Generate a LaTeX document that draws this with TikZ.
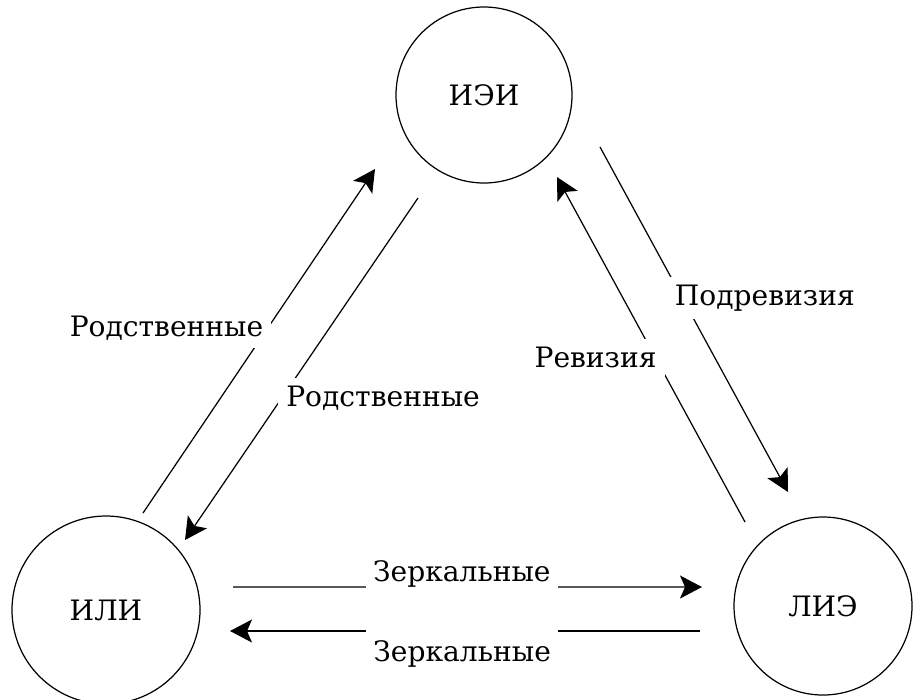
\documentclass[tikz,border=0pt]{standalone}
\usepackage{fontspec}
\setmainfont{DejaVu Serif}
\usetikzlibrary{arrows.meta,calc}

\begin{document}
\begin{tikzpicture}[
                x=.2cm,y=.2cm,
                line width=.7pt,
                type/.style={draw,circle,inner sep=0pt,font=\fontsize{16}{19}\selectfont},
                link/.style={-{Stealth[length=4.4mm,width=4.6mm,inset=1mm]}},
                tag/.style={fill=white,inner xsep=.16cm,inner ysep=.16cm,font=\fontsize{16}{19}\selectfont}]

\useasboundingbox (0,0) rectangle (91.4,-69.9);

                    % types
                    \node[type,minimum size=3.52cm] (TypeIEI) at (48.4,-9.5) {ИЭИ}; % 1
                    \node[type,minimum size=3.76cm] (TypeILI) at (10.6,-61.0) {ИЛИ}; % 2
                    \node[type,minimum size=3.56cm] (TypeLIE) at (82.3,-60.6) {ЛИЭ}; % 3


                    % ИЛИ <-> ИЭИ
                    \draw[link] ($(TypeILI)+(3.7,9.7)$) -- node[tag,pos=.538,anchor=east,xshift=.08cm] {Родственные} ($(TypeIEI)+(-10.9,-7.4)$);
                    \draw[link] ($(TypeIEI)+(-6.6,-10.3)$) -- node[tag,pos=.585,anchor=west,xshift=-.08cm] {Родственные} ($(TypeILI)+(7.9,7.0)$);


                    % ИЭИ <-> ЛИЭ
                    \draw[link] ($(TypeIEI)+(11.6,-5.2)$) -- node[tag,pos=.438,anchor=west,xshift=-.28cm,inner xsep=.12cm] {Подревизия} ($(TypeLIE)+(-3.5,11.4)$);
                    \draw[link] ($(TypeLIE)+(-7.8,8.4)$) -- node[tag,pos=.478,anchor=east,xshift=.2cm] {Ревизия} ($(TypeIEI)+(7.3,-8.2)$);


 % Зеркальные
                    \draw[link] ($(TypeILI)+(12.7,2.3)$) -- node[tag,pos=.488,yshift=.27cm,inner xsep=.15cm,inner ysep=.28cm] {Зеркальные} ($(TypeLIE)+(-12.1,1.9)$);
                    \draw[link] ($(TypeLIE)+(-12.3,-2.5)$) -- node[tag,pos=.506,yshift=-.45cm,inner xsep=.15cm,inner ysep=.28cm] {Зеркальные} ($(TypeILI)+(12.4,-2.1)$);

                    \end{tikzpicture}
\end{document}
